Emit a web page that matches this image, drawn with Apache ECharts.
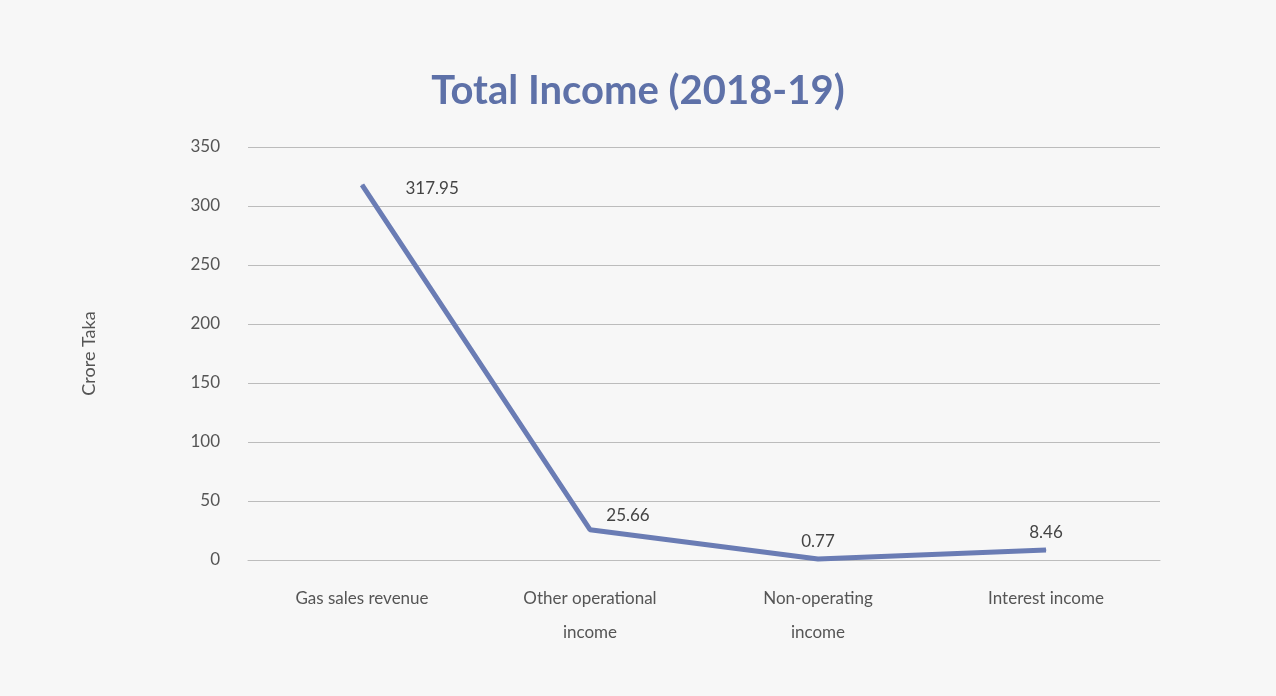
<!DOCTYPE html>
<html><head><meta charset="utf-8">
<script src="https://cdn.jsdelivr.net/npm/echarts@6/dist/echarts.min.js"></script>
<style>html,body{margin:0;padding:0;background:#f4f4f4;}#c{width:1276px;height:696px;}</style>
</head><body><div id="c"></div>
<script>
const categories = ['Gas sales revenue', 'Other operational\nincome', 'Non-operating\nincome', 'Interest income'];
const values = [317.95, 25.66, 0.77, 8.46];
const yTicks = [0, 50, 100, 150, 200, 250, 300, 350];

const chart = echarts.init(document.getElementById('c'));
const font = 'Lato, "Open Sans", sans-serif';
const labelPos = [
  { position: 'right', offset: [38, 4] },
  { position: 'top', offset: [38, 0] },
  { position: 'top', offset: [0, -4] },
  { position: 'top', offset: [0, -4] }
];
chart.setOption({
  backgroundColor: '#f7f7f7',
  title: {
    text: 'Total Income (2018-19)', left: 'center', top: 66,
    textStyle: { fontFamily: font, fontSize: 40, fontWeight: 'bold', color: '#5e71a8' }
  },
  grid: { left: 248, right: 116, top: 147, bottom: 136 },
  xAxis: {
    type: 'category', data: categories, boundaryGap: true,
    axisLine: { show: true, lineStyle: { color: '#bdbdbd', width: 1 } },
    axisTick: { show: false },
    axisLabel: { fontFamily: font, fontSize: 17, color: '#555', margin: 22, lineHeight: 34 }
  },
  yAxis: {
    type: 'value', min: yTicks[0], max: yTicks[yTicks.length - 1], interval: 50,
    name: 'Crore Taka', nameLocation: 'middle', nameGap: 150, nameRotate: 90,
    nameTextStyle: { fontFamily: font, fontSize: 18, color: '#555' },
    axisLine: { show: false }, axisTick: { show: false },
    axisLabel: { fontFamily: font, fontSize: 17, color: '#555', margin: 28 },
    splitLine: { lineStyle: { color: '#bcbcbc', width: 1 } }
  },
  series: [{
    type: 'line',
    data: values.map((v, i) => ({ value: v, label: labelPos[i] })),
    symbol: 'circle', symbolSize: 1, showSymbol: true,
    itemStyle: { color: '#6a7cb4' },
    lineStyle: { color: '#6a7cb4', width: 5 },
    label: { show: true, fontFamily: font, fontSize: 17, color: '#444', formatter: p => p.value.toFixed(2) },
    animation: false
  }]
});
</script></body></html>
